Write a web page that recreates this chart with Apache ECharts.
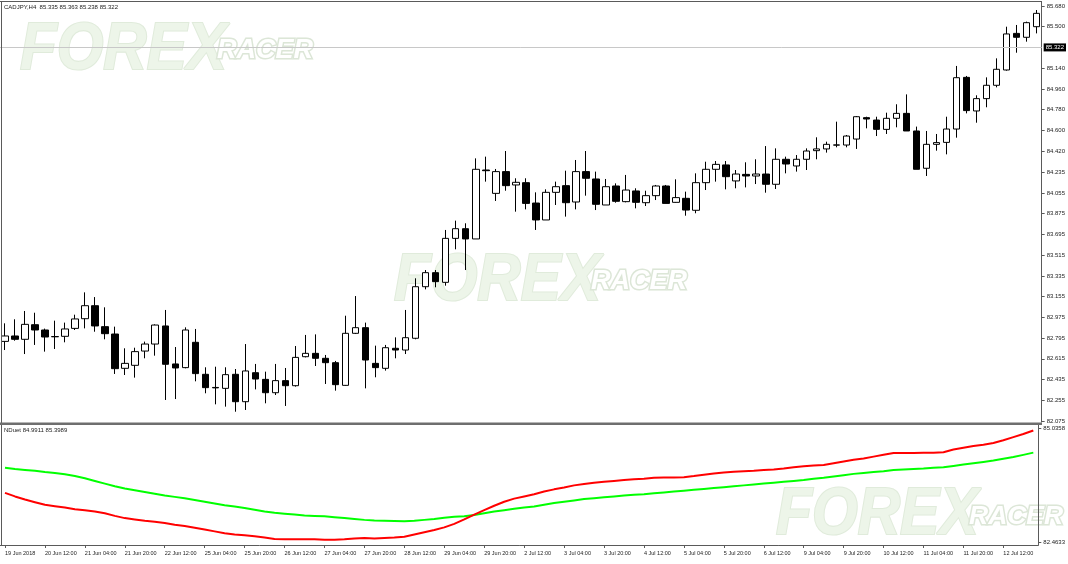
<!DOCTYPE html>
<html><head><meta charset="utf-8">
<script src="https://cdn.jsdelivr.net/npm/echarts@6/dist/echarts.min.js"></script>
<style>html,body{margin:0;padding:0;background:#fff}#c{width:1068px;height:564px}</style>
</head><body><div id="c"></div>
<script>
// ---- data (CADJPY H4, 19 Jun 2018 20:00 .. 13 Jul 2018 00:00) ----
const tickLabels = ['19 Jun 2018','20 Jun 12:00','21 Jun 04:00','21 Jun 20:00','22 Jun 12:00','25 Jun 04:00','25 Jun 20:00','26 Jun 12:00','27 Jun 04:00','27 Jun 20:00','28 Jun 12:00','29 Jun 04:00','29 Jun 20:00','2 Jul 12:00','3 Jul 04:00','3 Jul 20:00','4 Jul 12:00','5 Jul 04:00','5 Jul 20:00','6 Jul 12:00','9 Jul 04:00','9 Jul 20:00','10 Jul 12:00','11 Jul 04:00','11 Jul 20:00','12 Jul 12:00'];
const opens = [82.766,82.813,82.784,82.911,82.865,82.808,82.810,82.879,82.963,83.076,82.894,82.830,82.532,82.558,82.682,82.743,82.900,82.570,82.538,82.758,82.480,82.366,82.358,82.480,82.242,82.494,82.436,82.320,82.425,82.381,82.633,82.662,82.619,82.581,82.384,82.836,82.885,82.575,82.532,82.706,82.691,82.793,83.241,83.363,83.279,83.661,83.745,83.656,84.255,84.052,84.241,84.125,84.145,83.968,83.821,84.061,84.119,83.977,84.241,84.177,83.951,84.116,83.980,84.073,83.971,84.032,84.116,83.974,84.009,83.905,84.145,84.261,84.299,84.160,84.217,84.203,84.220,84.131,84.348,84.290,84.348,84.423,84.438,84.471,84.472,84.524,84.710,84.689,84.608,84.704,84.747,84.594,84.270,84.478,84.495,84.611,85.060,84.768,84.875,84.991,85.124,85.442,85.408,85.500];
const highs = [82.923,82.958,83.030,83.015,82.877,82.946,82.929,82.998,83.192,83.151,83.062,82.894,82.706,82.711,82.764,82.914,83.039,82.717,82.888,82.874,82.541,82.546,82.541,82.526,82.743,82.570,82.503,82.570,82.535,82.726,82.822,82.827,82.648,82.596,82.989,83.160,82.929,82.729,82.735,82.801,83.039,83.314,83.386,83.386,83.734,83.815,83.792,84.356,84.371,84.264,84.420,84.183,84.183,84.061,84.087,84.154,84.249,84.342,84.420,84.241,84.177,84.139,84.212,84.096,84.075,84.125,84.125,84.174,84.067,84.226,84.327,84.333,84.333,84.255,84.322,84.348,84.463,84.443,84.371,84.385,84.443,84.539,84.501,84.675,84.559,84.724,84.718,84.718,84.753,84.826,84.912,84.632,84.594,84.568,84.718,85.159,85.072,84.904,85.060,85.225,85.500,85.515,85.544,85.645];
const lows = [82.691,82.772,82.656,82.735,82.677,82.700,82.758,82.865,82.879,82.850,82.784,82.483,82.474,82.451,82.619,82.642,82.257,82.265,82.532,82.419,82.315,82.219,82.199,82.155,82.170,82.349,82.228,82.300,82.205,82.373,82.627,82.552,82.396,82.338,82.381,82.830,82.358,82.454,82.512,82.619,82.656,82.784,83.218,83.236,83.250,83.566,83.386,83.656,84.154,83.986,84.075,83.893,83.913,83.734,83.821,83.951,83.850,83.913,84.032,83.907,83.951,83.971,83.974,83.922,83.942,83.994,83.965,83.971,83.858,83.879,84.081,84.154,84.087,84.096,84.104,84.133,84.058,84.090,84.226,84.241,84.255,84.348,84.406,84.452,84.452,84.438,84.617,84.550,84.568,84.626,84.594,84.261,84.203,84.423,84.391,84.536,84.747,84.666,84.800,84.973,85.118,85.274,85.370,85.442];
const closes = [82.813,82.784,82.914,82.865,82.804,82.806,82.874,82.961,83.076,82.900,82.833,82.529,82.575,82.677,82.743,82.908,82.567,82.535,82.865,82.486,82.364,82.362,82.477,82.242,82.509,82.439,82.320,82.425,82.381,82.627,82.662,82.619,82.581,82.390,82.836,82.885,82.604,82.538,82.711,82.691,82.798,83.241,83.363,83.285,83.661,83.745,83.656,84.261,84.249,84.241,84.119,84.148,83.965,83.821,84.061,84.110,83.971,84.241,84.183,83.957,84.110,83.983,84.081,83.974,84.032,84.116,83.965,84.015,83.907,84.145,84.261,84.304,84.197,84.220,84.203,84.220,84.131,84.348,84.307,84.348,84.420,84.438,84.478,84.473,84.550,84.718,84.698,84.608,84.704,84.747,84.594,84.261,84.478,84.493,84.611,85.057,84.771,84.875,84.991,85.130,85.437,85.408,85.535,85.616];
const redLine = [83.58,83.50,83.43,83.37,83.31,83.28,83.25,83.21,83.19,83.16,83.12,83.06,83.01,82.98,82.95,82.93,82.90,82.86,82.83,82.79,82.75,82.71,82.67,82.64,82.62,82.60,82.57,82.54,82.53,82.53,82.53,82.53,82.52,82.52,82.53,82.55,82.56,82.55,82.56,82.57,82.59,82.64,82.69,82.74,82.80,82.88,82.98,83.09,83.19,83.29,83.38,83.45,83.50,83.55,83.61,83.66,83.70,83.75,83.78,83.81,83.83,83.85,83.87,83.89,83.90,83.92,83.93,83.93,83.935,83.96,83.99,84.02,84.04,84.06,84.07,84.08,84.10,84.11,84.13,84.16,84.18,84.20,84.21,84.25,84.29,84.33,84.36,84.40,84.44,84.48,84.48,84.48,84.485,84.49,84.50,84.56,84.60,84.64,84.67,84.71,84.77,84.84,84.91,84.99];
const greenLine = [84.15,84.12,84.10,84.08,84.05,84.03,84.00,83.96,83.91,83.85,83.79,83.73,83.68,83.64,83.60,83.56,83.52,83.49,83.46,83.42,83.38,83.34,83.30,83.27,83.24,83.20,83.16,83.13,83.11,83.09,83.07,83.06,83.05,83.03,83.01,82.99,82.97,82.955,82.95,82.945,82.94,82.95,82.97,82.99,83.02,83.04,83.05,83.08,83.12,83.16,83.19,83.22,83.25,83.27,83.31,83.35,83.38,83.41,83.44,83.46,83.48,83.50,83.52,83.54,83.55,83.57,83.59,83.61,83.63,83.65,83.67,83.69,83.71,83.73,83.75,83.77,83.79,83.81,83.83,83.85,83.87,83.90,83.92,83.95,83.98,84.01,84.03,84.05,84.07,84.10,84.11,84.12,84.13,84.15,84.16,84.19,84.22,84.25,84.28,84.31,84.35,84.39,84.44,84.49];
const priceTicks = [85.680,85.500,85.140,84.960,84.780,84.600,84.420,84.235,84.055,83.875,83.695,83.515,83.335,83.155,82.975,82.795,82.615,82.435,82.255,82.075];
const indTicks = [85.0358,82.4633];
const lastPrice = 85.322;
const headerText = 'CADJPY,H4  85.335 85.363 85.238 85.322';
const indHeaderText = 'NDuet 84.9911 85.3989';
// --------------------------------------------------------------

const cats = opens.map((_, i) => String(i));
const candles = opens.map((o, i) => [o, closes[i], lows[i], highs[i]]);
const FF = '"Liberation Sans", Arial, sans-serif';
const AX = '#5a5a5a';

function wm(x, y, s) {
  return [
    {type:'text', z:0, silent:true, x:x, y:y, scaleY:1.12, originY:0,
     style:{text:'FOREX', font:'italic 900 ' + (60*s) + 'px ' + FF, fill:'#edf5e9', stroke:'#e0ebdb', lineWidth:2,
            textAlign:'left', textVerticalAlign:'middle', align:'left', verticalAlign:'middle'}},
    {type:'text', z:0, silent:true, x:x + 197*s, y:y + 1,
     style:{text:'RACER', font:'italic 900 ' + (27*s) + 'px ' + FF, fill:'#ffffff', stroke:'#dce6d7', lineWidth:3,
            textAlign:'left', textVerticalAlign:'middle', align:'left', verticalAlign:'middle'}}
  ];
}

const chart = echarts.init(document.getElementById('c'), null, {renderer:'canvas'});
chart.setOption({
  animation:false,
  backgroundColor:'#ffffff',
  grid:[
    {left:-2.32, width:1044.16, top:2, height:420},
    {left:-2.32, width:1044.16, top:425, height:120}
  ],
  xAxis:[
    {gridIndex:0, type:'category', data:cats, boundaryGap:true,
     axisLine:{show:false}, axisTick:{show:false}, axisLabel:{show:false}, splitLine:{show:false}},
    {gridIndex:1, type:'category', data:cats, boundaryGap:true,
     axisLine:{show:true, lineStyle:{color:AX, width:1}},
     axisTick:{show:true, interval:3, length:3, alignWithLabel:true, lineStyle:{color:AX}},
     axisLabel:{interval:3, formatter:(v, i) => tickLabels[i/4] || '', align:'left', fontSize:5.5, color:'#222', margin:5, fontFamily:FF},
     splitLine:{show:false}}
  ],
  yAxis:[
    {gridIndex:0, type:'value', position:'right', min:82.0656, max:85.7146,
     splitLine:{show:false},
     axisLine:{show:true, lineStyle:{color:AX, width:1}},
     axisTick:{show:true, customValues:priceTicks, length:3, lineStyle:{color:AX}},
     axisLabel:{customValues:priceTicks, formatter:v => v.toFixed(3), fontSize:6, color:'#222', margin:5, fontFamily:FF}},
    {gridIndex:1, type:'value', position:'right', min:82.4019, max:85.115,
     splitLine:{show:false},
     axisLine:{show:true, lineStyle:{color:AX, width:1}},
     axisTick:{show:true, customValues:indTicks, length:3, lineStyle:{color:AX}},
     axisLabel:{customValues:indTicks, formatter:v => v.toFixed(4), fontSize:6, color:'#222', margin:5, fontFamily:FF}}
  ],
  series:[
    {type:'candlestick', xAxisIndex:0, yAxisIndex:0, data:candles, barWidth:7,
     itemStyle:{color:'#ffffff', color0:'#000000', borderColor:'#000000', borderColor0:'#000000', borderWidth:1},
     markLine:{silent:true, symbol:['none','none'], animation:false,
       data:[{yAxis:lastPrice}],
       lineStyle:{color:'#c8c8c8', width:1, type:'solid'},
       label:{show:true, position:'end', formatter:lastPrice.toFixed(3), backgroundColor:'#000', color:'#fff',
              fontSize:6, fontFamily:FF, padding:[1,2,1,2], distance:2}}},
    {type:'line', xAxisIndex:1, yAxisIndex:1, data:greenLine, symbol:'none', smooth:false,
     lineStyle:{color:'#00ff00', width:2}, z:3},
    {type:'line', xAxisIndex:1, yAxisIndex:1, data:redLine, symbol:'none', smooth:false,
     lineStyle:{color:'#ff0000', width:2}, z:4}
  ],
  graphic:[
    ...wm(20, 50, 1), ...wm(394, 281, 1), ...wm(776, 516, 0.98),
    {type:'rect', z:100, silent:true, shape:{x:0, y:1, width:1042, height:1}, style:{fill:AX}},
    {type:'rect', z:100, silent:true, shape:{x:1, y:1, width:1, height:545}, style:{fill:AX}},
    {type:'rect', z:100, silent:true, shape:{x:0, y:422.5, width:1042, height:2.5}, style:{fill:'#6e6e6e'}},
    {type:'text', z:100, silent:true, x:4, y:7,
     style:{text:headerText, font:'6px ' + FF, fill:'#222', textVerticalAlign:'middle', verticalAlign:'middle'}},
    {type:'text', z:100, silent:true, x:4, y:430,
     style:{text:indHeaderText, font:'6px ' + FF, fill:'#222', textVerticalAlign:'middle', verticalAlign:'middle'}}
  ]
});
</script></body></html>
